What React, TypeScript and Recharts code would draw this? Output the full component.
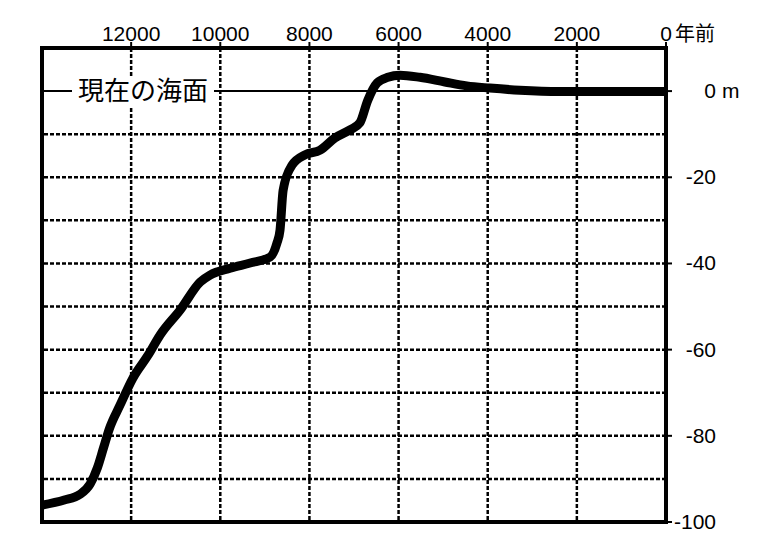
import { LineChart, Line, XAxis, YAxis, ReferenceLine, ReferenceArea } from "recharts"

// years before present (oldest first) and sea level relative to today (m)
const years = [14000, 13500, 13150, 12920, 12760, 12620, 12490, 12250, 11960, 11620, 11350, 10900, 10450, 10230, 9780, 9330, 8880, 8730, 8660, 8590, 8390, 8100, 7760, 7430, 7090, 6870, 6690, 6480, 6240, 5970, 5520, 4960, 4470, 3950, 3280, 2380, 0]
const levels = [-96.1, -94.9, -93.6, -91.2, -87.5, -82.8, -78.4, -72.9, -66.6, -61.3, -56.6, -50.8, -44.3, -42.7, -41.1, -39.9, -38.5, -35.3, -32.3, -23.0, -17.2, -14.8, -13.7, -10.9, -9.0, -7.4, -2.1, 1.9, 3.2, 3.7, 3.2, 2.1, 1.2, 0.7, 0.2, -0.1, -0.1]

const yearTicks = [0, 2000, 4000, 6000, 8000, 10000, 12000]
const levelTicks = [-100, -80, -60, -40, -20, 0]
const gridLevels = [-90, -80, -70, -60, -50, -40, -30, -20, -10]
const gridYears = [2000, 4000, 6000, 8000, 10000, 12000]
const seaLabel = "現在の海面"

const data = years.map((year, i) => ({ year, level: levels[i] }))

const latin = "'Liberation Sans', Arial, sans-serif"
const cjk = "'Noto Sans CJK JP', sans-serif"

function YearTick(props: any) {
  const { x, y, payload } = props
  if (payload.value === 0) {
    return (
      <g>
        <text x={x} y={y} dy={1} textAnchor="middle" fontSize={21} fontFamily={latin} fill="#000">0</text>
        <text x={x + 9} y={y} dy={1} textAnchor="start" fontSize={20} fontFamily={cjk} fill="#000">年前</text>
      </g>
    )
  }
  return (
    <text x={x} y={y} dy={1} textAnchor="middle" fontSize={21} fontFamily={latin} fill="#000">
      {payload.value}
    </text>
  )
}

function LevelTick(props: any) {
  const { x, y, payload } = props
  return (
    <g>
      <text x={x + 42} y={y} dy={7} textAnchor="end" fontSize={21} fontFamily={latin} fill="#000">
        {payload.value}
      </text>
      {payload.value === 0 && (
        <text x={x + 48} y={y} dy={7} textAnchor="start" fontSize={21} fontFamily={latin} fill="#000">m</text>
      )}
    </g>
  )
}

function SeaLabel(props: any) {
  const { x, y } = props.viewBox
  return (
    <g>
      <rect x={x + 30} y={y - 15} width={142} height={30} fill="#fff" />
      <text x={x + 36} y={y} dy={9} fontSize={26} fontFamily={cjk} fill="#000">{seaLabel}</text>
    </g>
  )
}

export default function App() {
  return (
    <LineChart width={752} height={527} data={data} margin={{ top: 0, right: 14, left: 34, bottom: 13 }}>
      <XAxis
        dataKey="year"
        type="number"
        domain={[0, 14000]}
        reversed
        orientation="top"
        ticks={yearTicks}
        height={40}
        axisLine={false}
        tickSize={6}
        tickLine={{ stroke: "#000", strokeWidth: 2, strokeDasharray: "4 2" }}
        tick={<YearTick />}
        interval={0}
      />
      <YAxis
        type="number"
        domain={[-100, 10]}
        orientation="right"
        ticks={levelTicks}
        width={80}
        axisLine={false}
        tickSize={6}
        tickLine={{ stroke: "#000", strokeWidth: 2 }}
        tick={<LevelTick />}
        interval={0}
        allowDataOverflow
      />
      {gridYears.map((v) => (
        <ReferenceLine key={"x" + v} x={v} stroke="#000" strokeWidth={2.5} strokeDasharray="4 2" />
      ))}
      {gridLevels.map((v) => (
        <ReferenceLine key={"y" + v} y={v} stroke="#000" strokeWidth={2.5} strokeDasharray="4 2" />
      ))}
      <ReferenceLine y={0} stroke="#000" strokeWidth={2} label={<SeaLabel />} />
      <Line
        type="monotone"
        dataKey="level"
        stroke="#000"
        strokeWidth={9}
        dot={false}
        isAnimationActive={false}
      />
      <ReferenceArea x1={0} x2={14000} y1={-100} y2={10} fill="none" stroke="#000" strokeWidth={4} />
    </LineChart>
  )
}
